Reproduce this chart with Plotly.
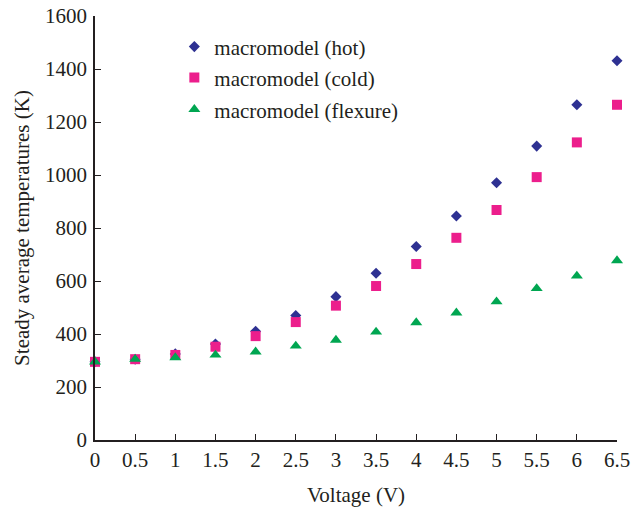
import plotly.graph_objects as go

voltage = [0, 0.5, 1, 1.5, 2, 2.5, 3, 3.5, 4, 4.5, 5, 5.5, 6, 6.5]
hot = [295, 305, 325, 362, 410, 470, 541, 629, 730, 845, 971, 1109, 1265, 1431]
cold = [295, 305, 321, 352, 392, 445, 507, 581, 664, 763, 868, 992, 1123, 1265]
flexure = [295, 305, 311, 321, 333, 355, 377, 408, 443, 480, 522, 572, 619, 677]

x_ticks = [0, 0.5, 1, 1.5, 2, 2.5, 3, 3.5, 4, 4.5, 5, 5.5, 6, 6.5]
x_tick_text = ["0", "0.5", "1", "1.5", "2", "2.5", "3", "3.5", "4", "4.5", "5", "5.5", "6", "6.5"]
y_ticks = [0, 200, 400, 600, 800, 1000, 1200, 1400, 1600]

FONT = "Liberation Serif, Times New Roman, serif"
INK = "#231F20"

fig = go.Figure()
fig.add_trace(go.Scatter(x=voltage, y=hot, mode="markers", name="macromodel (hot)",
                         marker=dict(symbol="diamond", size=8.5, color="#2E3192"),
                         cliponaxis=False, legend="legend"))
fig.add_trace(go.Scatter(x=voltage, y=cold, mode="markers", name="macromodel (cold)",
                         marker=dict(symbol="square", size=10, color="#EC1E8C"),
                         cliponaxis=False, legend="legend2"))
fig.add_trace(go.Scatter(x=voltage, y=flexure, mode="markers", name="macromodel (flexure)",
                         marker=dict(symbol="triangle-up", size=10.5, color="#00A651"),
                         cliponaxis=False, legend="legend3"))

leg_common = dict(font=dict(family=FONT, size=21, color=INK), bgcolor="rgba(0,0,0,0)",
                  x=0.152, xanchor="left", yanchor="middle", itemwidth=30)
fig.update_layout(
    width=638, height=508,
    margin=dict(l=95, r=21, t=16, b=68),
    paper_bgcolor="white", plot_bgcolor="white",
    font=dict(family=FONT, size=21, color=INK),
    showlegend=True,
    legend=dict(**leg_common, y=0.927),
    legend2=dict(**leg_common, y=0.854),
    legend3=dict(**leg_common, y=0.779),
    xaxis=dict(range=[0, 6.5], tickvals=x_ticks, ticktext=x_tick_text,
               showline=True, linecolor=INK, linewidth=1.5,
               ticks="inside", ticklen=6, tickcolor=INK, ticklabeloverflow="allow",
               showgrid=False, zeroline=False, automargin=False,
               title=dict(text="Voltage (V)", font=dict(size=21), standoff=16)),
    yaxis=dict(range=[0, 1600], tickvals=y_ticks,
               showline=True, linecolor=INK, linewidth=1.5,
               ticks="inside", ticklen=6, tickcolor=INK, ticklabelstandoff=2,
               ticklabeloverflow="allow",
               showgrid=False, zeroline=False, automargin=False,
               title=dict(text="Steady average temperatures (K)", font=dict(size=21), standoff=10)),
)

fig.write_html("out.html", config={"displayModeBar": False},
               post_script="document.body.style.margin='0';document.body.style.padding='0';")
